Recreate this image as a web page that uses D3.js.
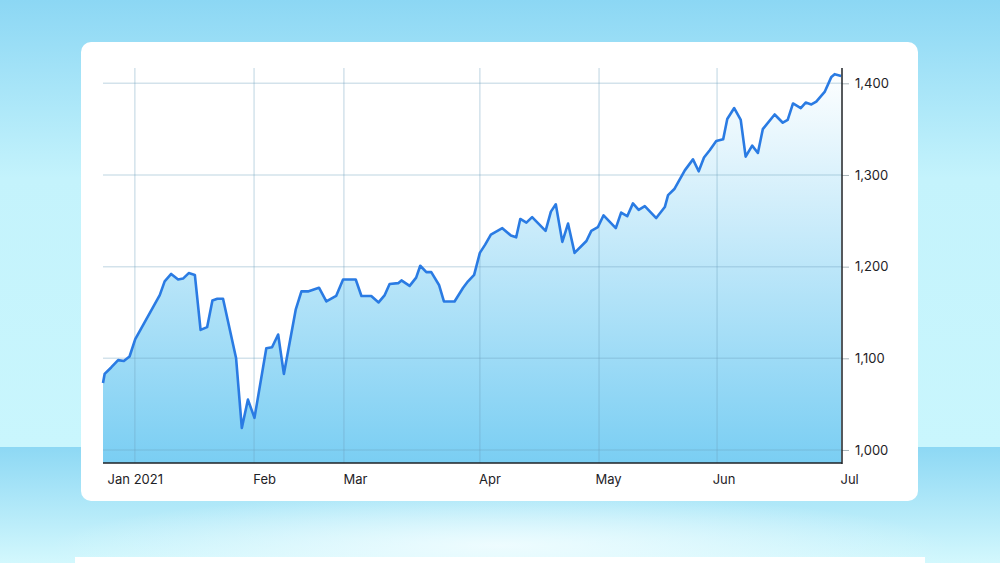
<!DOCTYPE html>
<html>
<head>
<meta charset="utf-8">
<script src="https://cdn.jsdelivr.net/npm/d3@7"></script>
<style>
  html, body { margin: 0; padding: 0; background: #c8f5fc; }
  svg { display: block; }
  .tick text { font-family: Inter, "Noto Sans", sans-serif; font-size: 13px; fill: #1e2226; }
</style>
</head>
<body>
<div id="chart"></div>
<script>
// Day offsets (days since start of Jan) and index values
const days = [0, 0.4, 2.0, 3.7, 5.1, 6.5, 7.9, 13.9, 15.1, 16.7, 18.4, 19.6, 21.0, 22.5,
  23.9, 25.5, 26.8, 28.0, 29.4, 32.6, 34.0, 35.5, 37.1, 40.0, 41.4, 42.9, 44.3, 47.2,
  48.6, 50.2, 52.9, 54.7, 57.1, 58.8, 61.9, 63.3, 65.7, 67.5, 69.0, 70.2, 72.3, 73.1,
  75.1, 76.7, 77.7, 79.2, 80.4, 82.3, 83.5, 84.9, 86.1, 88.2, 89.4, 90.9, 92.3, 93.6,
  95.0, 97.8, 99.9, 101.2, 102.2, 103.7, 105.1, 108.4, 109.7, 110.9, 112.5, 113.9,
  115.5, 118.4, 119.6, 121.2, 122.6, 125.6, 126.9, 128.4, 129.8, 131.2, 132.7, 135.5,
  137.6, 138.4, 140.0, 142.5, 144.5, 145.9, 147.2, 148.6, 150.2, 151.9, 152.9, 154.6,
  156.2, 157.4, 159.0, 160.4, 161.6, 164.5, 166.5, 167.7, 169.0, 170.9, 172.1, 173.5,
  174.7, 176.8, 178.4, 179.2, 180.8];

const values = [1073, 1083, 1090, 1098, 1097, 1102, 1121, 1169, 1184, 1192, 1186, 1187, 1193, 1191,
  1131, 1134, 1163, 1165, 1165, 1100, 1024, 1055, 1035, 1111, 1112, 1126, 1083, 1153,
  1173, 1173, 1177, 1162, 1168, 1186, 1186, 1168, 1168, 1161, 1169, 1181, 1182, 1185,
  1179, 1188, 1201, 1194, 1194, 1180, 1162, 1162, 1162, 1177, 1184, 1191, 1215, 1224,
  1235, 1242, 1234, 1232, 1252, 1248, 1254, 1239, 1260, 1268, 1227, 1247,
  1215, 1228, 1239, 1243, 1256, 1242, 1259, 1255, 1269, 1262, 1266, 1253,
  1265, 1278, 1285, 1305, 1317, 1304, 1319, 1327, 1337, 1339, 1361, 1373,
  1360, 1320, 1332, 1324, 1350, 1366, 1357, 1360, 1378, 1373, 1379, 1377,
  1380, 1391, 1407, 1410, 1408];

const gridDays = [7.8, 37.0, 59.0, 92.3, 121.5, 150.4];
const labelDays = [1.0, 36.7, 58.8, 92.0, 120.5, 149.2, 180.5];
const monthLabels = ["Jan 2021", "Feb", "Mar", "Apr", "May", "Jun", "Jul"];
const yTicks = [1000, 1100, 1200, 1300, 1400];

const data = days.map((d, i) => ({ day: d, value: values[i] }));

const W = 1000, H = 563;
const svg = d3.select("#chart").append("svg")
  .attr("width", W)
  .attr("height", H);

const defs = svg.append("defs");

// background gradients
const topBg = defs.append("linearGradient").attr("id", "topBg")
  .attr("x1", 0).attr("y1", 0).attr("x2", 0).attr("y2", 1);
topBg.append("stop").attr("offset", "0%").attr("stop-color", "#8cd7f4");
topBg.append("stop").attr("offset", "40%").attr("stop-color", "#c4f3fc");
topBg.append("stop").attr("offset", "100%").attr("stop-color", "#c9f6fd");

const lowBg = defs.append("linearGradient").attr("id", "lowBg")
  .attr("x1", 0).attr("y1", 0).attr("x2", 0).attr("y2", 1);
lowBg.append("stop").attr("offset", "0%").attr("stop-color", "#8dd8f4");
lowBg.append("stop").attr("offset", "100%").attr("stop-color", "#d3f8fd");

const glow = defs.append("radialGradient").attr("id", "glow")
  .attr("cx", "50%").attr("cy", "85%").attr("r", "45%");
glow.append("stop").attr("offset", "0%").attr("stop-color", "#f2fdff").attr("stop-opacity", 0.9);
glow.append("stop").attr("offset", "100%").attr("stop-color", "#f2fdff").attr("stop-opacity", 0);

svg.append("rect").attr("width", W).attr("height", 447).attr("fill", "url(#topBg)");
svg.append("rect").attr("y", 447).attr("width", W).attr("height", H - 447).attr("fill", "url(#lowBg)");
svg.append("rect").attr("y", 447).attr("width", W).attr("height", H - 447).attr("fill", "url(#glow)");
svg.append("rect").attr("x", 75).attr("y", 557).attr("width", 850).attr("height", 10).attr("fill", "#ffffff");

// card
svg.append("rect")
  .attr("x", 81).attr("y", 42)
  .attr("width", 837).attr("height", 459)
  .attr("rx", 10)
  .attr("fill", "#ffffff");

const plotLeft = 103, plotRight = 842, plotTop = 68, plotBottom = 463;

const x = d3.scaleLinear().domain([0, 181]).range([plotLeft, plotRight]);
const y = d3.scaleLinear().domain([985.8, 1416.7]).range([plotBottom, plotTop]);

const areaGrad = defs.append("linearGradient").attr("id", "areaGrad")
  .attr("gradientUnits", "userSpaceOnUse")
  .attr("x1", 0).attr("y1", plotTop).attr("x2", 0).attr("y2", plotBottom);
areaGrad.append("stop").attr("offset", "0%").attr("stop-color", "#ffffff");
areaGrad.append("stop").attr("offset", "100%").attr("stop-color", "#7acef3");

const area = d3.area()
  .x(d => x(d.day))
  .y0(plotBottom)
  .y1(d => y(d.value));

const line = d3.line()
  .x(d => x(d.day))
  .y(d => y(d.value));

svg.append("path")
  .datum(data)
  .attr("d", area)
  .attr("fill", "url(#areaGrad)");

// gridlines
const grid = svg.append("g").attr("stroke", "rgba(110,160,190,0.3)").attr("stroke-width", 1.5);
grid.selectAll(".hgrid")
  .data(yTicks)
  .enter().append("line")
  .attr("x1", plotLeft).attr("x2", plotRight)
  .attr("y1", d => y(d)).attr("y2", d => y(d));
grid.selectAll(".vgrid")
  .data(gridDays)
  .enter().append("line")
  .attr("x1", d => x(d)).attr("x2", d => x(d))
  .attr("y1", plotTop).attr("y2", plotBottom);

svg.append("path")
  .datum(data)
  .attr("d", line)
  .attr("fill", "none")
  .attr("stroke", "#2a7be3")
  .attr("stroke-width", 2.6)
  .attr("stroke-linejoin", "round");

// y axis on the right
const yAxis = svg.append("g")
  .attr("transform", `translate(${plotRight}, 0)`)
  .call(d3.axisRight(y).tickValues(yTicks).tickFormat(d3.format(",")).tickSize(7).tickPadding(6));
yAxis.select(".domain").remove();
yAxis.selectAll(".tick line").attr("stroke", "#a8b4ba");
svg.append("line")
  .attr("x1", plotRight).attr("x2", plotRight)
  .attr("y1", plotTop).attr("y2", plotBottom + 1)
  .attr("stroke", "#1e2226").attr("stroke-width", 1.5);

// x axis
const xAxis = svg.append("g")
  .attr("transform", `translate(0, ${plotBottom})`)
  .call(d3.axisBottom(x).tickValues(labelDays)
    .tickFormat((d, i) => monthLabels[i]).tickSize(0).tickPadding(12));
xAxis.select(".domain").remove();
xAxis.selectAll(".tick text").attr("text-anchor", "start");
svg.append("line")
  .attr("x1", plotLeft).attr("x2", plotRight)
  .attr("y1", plotBottom).attr("y2", plotBottom)
  .attr("stroke", "#1e2226").attr("stroke-width", 1.5);
</script>
</body>
</html>
